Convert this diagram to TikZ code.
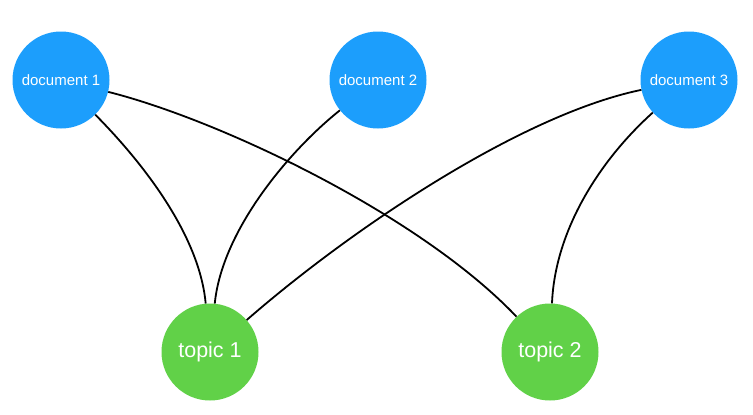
\documentclass[tikz,border=0pt]{standalone}
\usepackage{fontspec}
\setmainfont{Liberation Sans}
\definecolor{docblue}{HTML}{1C9EFC}
\definecolor{topgreen}{HTML}{61D148}
\begin{document}
\begin{tikzpicture}[x=1pt,y=-1pt,
  doc/.style={circle,fill=docblue,text=white,minimum size=97pt,inner sep=0pt,font=\fontsize{15}{17}\selectfont},
  topic/.style={circle,fill=topgreen,text=white,minimum size=97pt,inner sep=0pt,font=\fontsize{21.5}{24}\selectfont},
  link/.style={line width=1.8pt,black}]
\useasboundingbox (0,0) rectangle (753,415);
\node[doc] (d1) at (61,80) {document 1};
\node[doc] (d2) at (378,80) {document 2};
\node[doc] (d3) at (689,80) {document 3};
\node[topic] (t1) at (210,352) {topic 1};
\node[topic] (t2) at (550,352) {topic 2};
\draw[link] (d1) .. controls (150,170) and (200,240) .. (t1);
\draw[link] (d2) .. controls (290,150) and (222,230) .. (t1);
\draw[link] (d1) .. controls (220,120) and (420,215) .. (t2);
\draw[link] (d3) .. controls (520,115) and (350,230) .. (t1);
\draw[link] (d3) .. controls (600,160) and (555,230) .. (t2);
\end{tikzpicture}
\end{document}
